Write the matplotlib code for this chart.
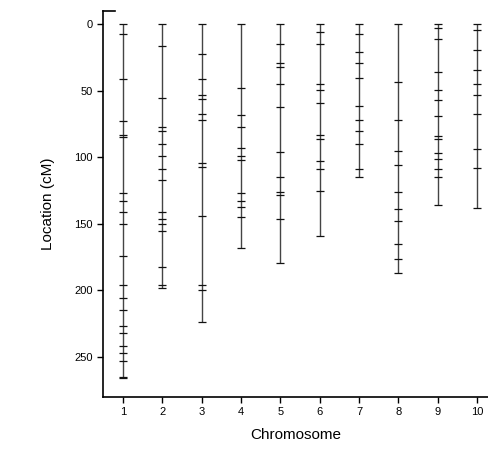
import matplotlib
matplotlib.use("Agg")
import matplotlib.pyplot as plt

plt.rcParams['font.family'] = ['Liberation Sans', 'DejaVu Sans']

chromosomes = [1, 2, 3, 4, 5, 6, 7, 8, 9, 10]

# marker positions (cM)
chr1 = [0, 7, 41, 73, 83, 85, 127, 133, 141, 150, 174, 196, 206, 215, 227, 232, 242, 247, 253, 265, 266]
chr2 = [0, 16, 55, 77, 80, 90, 99, 109, 117, 141, 146, 150, 155, 182, 196, 198]
chr3 = [0, 22, 41, 53, 56, 67, 72, 104, 107, 144, 196, 200, 224]
chr4 = [0, 48, 68, 77, 93, 99, 102, 127, 133, 137, 145, 168]
chr5 = [0, 15, 29, 32, 45, 62, 96, 115, 126, 128, 146, 179]
chr6 = [0, 6, 15, 45, 49, 59, 83, 86, 103, 109, 125, 159]
chr7 = [0, 7, 21, 29, 40, 61, 72, 80, 90, 109, 115]
chr8 = [0, 43, 72, 95, 106, 126, 139, 148, 165, 176, 187]
chr9 = [0, 3, 11, 36, 49, 57, 69, 84, 86, 97, 101, 109, 115, 136]
chr10 = [0, 4, 19, 34, 45, 53, 67, 94, 108, 138]

markers = [chr1, chr2, chr3, chr4, chr5, chr6, chr7, chr8, chr9, chr10]

fig = plt.figure(figsize=(4.88, 4.61), dpi=100)
ax = fig.add_axes([0.211, 0.139, 0.789, 0.837])

for c, pos in zip(chromosomes, markers):
    ax.vlines(c, 0, max(pos), color='#444444', lw=1.0)
    ax.plot([c] * len(pos), pos, linestyle='none', marker='_',
            markersize=5.5, mew=0.9, color='#111111')

ax.set_xlim(0.49, 10.28)
ax.set_ylim(280, -10)
ax.set_xticks(chromosomes)
ax.set_yticks([0, 50, 100, 150, 200, 250])
ax.tick_params(direction='out', length=4, width=1, labelsize=8)

for s in ['top', 'right']:
    ax.spines[s].set_visible(False)
for s in ['left', 'bottom']:
    ax.spines[s].set_linewidth(1.2)
ax.plot([0, 0.03], [1, 1], transform=ax.transAxes, color='black', lw=1.2, clip_on=False)

ax.set_xlabel('Chromosome', fontsize=11, labelpad=8)
ax.set_ylabel('Location (cM)', fontsize=11, labelpad=14)

fig.savefig('out.png', dpi=100)
